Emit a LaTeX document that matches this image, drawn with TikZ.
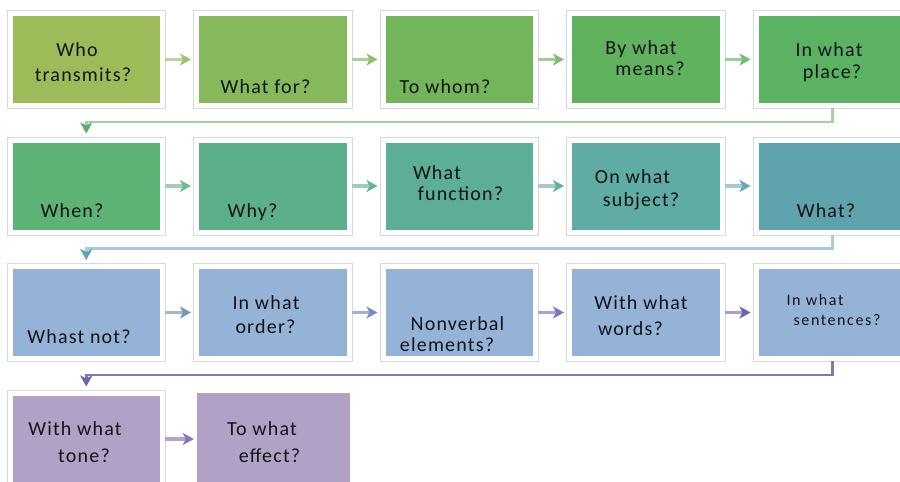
\documentclass[tikz,border=0pt]{standalone}
\usepackage{fontspec}
\setmainfont{Carlito}
\newfontfamily\boxfont[LetterSpace=6]{Carlito}
\newfontfamily\boxsmallfont[LetterSpace=10]{Carlito}
\usetikzlibrary{arrows.meta}
\definecolor{rA1}{RGB}{156,188,89}
\definecolor{rA2}{RGB}{134,185,91}
\definecolor{rA3}{RGB}{114,181,90}
\definecolor{rA4}{RGB}{97,178,94}
\definecolor{rA5}{RGB}{90,178,98}
\definecolor{rB1}{RGB}{93,178,117}
\definecolor{rB2}{RGB}{92,176,137}
\definecolor{rB3}{RGB}{92,174,151}
\definecolor{rB4}{RGB}{94,172,163}
\definecolor{rB5}{RGB}{93,162,172}
\definecolor{rC}{RGB}{149,179,215}
\definecolor{rD}{RGB}{178,161,199}
\definecolor{txtc}{RGB}{20,20,20}
% arrow shaft (s) and head (h) colours
\definecolor{s1}{RGB}{183,213,158}\definecolor{h1}{RGB}{156,196,106}
\definecolor{s2}{RGB}{169,209,151}\definecolor{h2}{RGB}{140,192,106}
\definecolor{s3}{RGB}{157,207,151}\definecolor{h3}{RGB}{125,191,110}
\definecolor{s4}{RGB}{151,205,152}\definecolor{h4}{RGB}{111,189,116}
\definecolor{s6}{RGB}{159,208,176}\definecolor{h6}{RGB}{109,187,138}
\definecolor{s7}{RGB}{158,207,190}\definecolor{h7}{RGB}{99,181,151}
\definecolor{s8}{RGB}{160,205,198}\definecolor{h8}{RGB}{95,176,166}
\definecolor{s9}{RGB}{163,203,208}\definecolor{h9}{RGB}{98,171,179}
\definecolor{s11}{RGB}{164,182,208}\definecolor{h11}{RGB}{120,150,189}
\definecolor{s12}{RGB}{166,176,210}\definecolor{h12}{RGB}{122,140,192}
\definecolor{s13}{RGB}{165,167,210}\definecolor{h13}{RGB}{122,120,191}
\definecolor{s14}{RGB}{164,159,208}\definecolor{h14}{RGB}{110,98,176}
\definecolor{s16}{RGB}{180,162,208}\definecolor{h16}{RGB}{142,114,186}
\definecolor{cs1}{RGB}{165,210,162}\definecolor{ch1}{RGB}{91,174,104}
\definecolor{cs2}{RGB}{169,205,212}\definecolor{ch2}{RGB}{95,163,176}
\definecolor{cs3}{RGB}{131,120,178}\definecolor{ch3}{RGB}{114,100,168}
\begin{document}
\begin{tikzpicture}[x=1pt,y=-1pt,
  box/.style={minimum width=152.5pt, minimum height=92pt, inner sep=0pt,
    draw=white, line width=5pt, preaction={draw=black!15, line width=7pt}},
  plainbox/.style={minimum width=153pt, minimum height=92pt, inner sep=0pt, draw=none},
  txt/.style={font=\boxfont\fontsize{20}{24}\selectfont, text=txtc, inner sep=0pt, anchor=base},
  smalltxt/.style={font=\boxsmallfont\fontsize{16}{19}\selectfont, text=txtc, inner sep=0pt, anchor=base},
  harr/.style n args={2}{draw=#1, line width=3.5pt, shorten >=3pt,
    -{Stealth[length=11pt, width=12pt, inset=3pt, color=#2]}},
  conn/.style n args={2}{draw=#1, line width=2.5pt, shorten >=4pt,
    -{Stealth[length=11pt, width=12pt, inset=3pt, color=#2]}}
]
\useasboundingbox (0,0) rectangle (900,482);
\clip (0,0) rectangle (900,482);
\fill[white] (0,0) rectangle (900,482);

% Row 1
\node[box, fill=rA1] (b1) at (86.25,59.5) {};
\node[box, fill=rA2] (b2) at (272.75,59.5) {};
\node[box, fill=rA3] (b3) at (459.25,59.5) {};
\node[box, fill=rA4] (b4) at (645.75,59.5) {};
\node[box, fill=rA5] (b5) at (832.25,59.5) {};
% Row 2
\node[box, fill=rB1] (b6) at (86.25,186) {};
\node[box, fill=rB2] (b7) at (272.75,186) {};
\node[box, fill=rB3] (b8) at (459.25,186) {};
\node[box, fill=rB4] (b9) at (645.75,186) {};
\node[box, fill=rB5] (b10) at (832.25,186) {};
% Row 3
\node[box, fill=rC] (b11) at (86.25,312.5) {};
\node[box, fill=rC] (b12) at (272.75,312.5) {};
\node[box, fill=rC] (b13) at (459.25,312.5) {};
\node[box, fill=rC] (b14) at (645.75,312.5) {};
\node[box, fill=rC] (b15) at (832.25,312.5) {};
% Row 4
\node[box, fill=rD] (b16) at (86.25,439) {};
\node[plainbox, fill=rD] (b17) at (273.5,439) {};

% Texts
\node[txt] (t1a) at (77,56) {Who};
\node[txt] (t1b) at (83,81) {transmits?};
\node[txt] (t2) at (265.5,93) {What for?};
\node[txt] (t3) at (445,93) {To whom?};
\node[txt] (t4a) at (641,54) {By what};
\node[txt] (t4b) at (650,75) {means?};
\node[txt] (t5a) at (829,56) {In what};
\node[txt] (t5b) at (832,78) {place?};
\node[txt] (t6) at (72,217) {When?};
\node[txt] (t7) at (252.5,217) {Why?};
\node[txt] (t8a) at (437,179) {What};
\node[txt] (t8b) at (460.5,200) {function?};
\node[txt] (t9a) at (632.5,183) {On what};
\node[txt] (t9b) at (641,206) {subject?};
\node[txt] (t10) at (826,217) {What?};
\node[txt] (t11) at (79,343) {Whast not?};
\node[txt] (t12a) at (266,309) {In what};
\node[txt] (t12b) at (265.5,333) {order?};
\node[txt] (t13a) at (457.5,330) {Nonverbal};
\node[txt] (t13b) at (447,351) {elements?};
\node[txt] (t14a) at (641,309) {With what};
\node[txt] (t14b) at (630.5,335) {words?};
\node[smalltxt] (t15a) at (815,305) {In what};
\node[smalltxt] (t15b) at (837,325) {sentences?};
\node[txt] (t16a) at (75,435) {With what};
\node[txt] (t16b) at (84,462) {tone?};
\node[txt] (t17a) at (262,435) {To what};
\node[txt] (t17b) at (269.5,462) {effect?};

% Horizontal arrows
\draw[harr={s1}{h1}] (b1.east) -- (b2.west);
\draw[harr={s2}{h2}] (b2.east) -- (b3.west);
\draw[harr={s3}{h3}] (b3.east) -- (b4.west);
\draw[harr={s4}{h4}] (b4.east) -- (b5.west);
\draw[harr={s6}{h6}] (b6.east) -- (b7.west);
\draw[harr={s7}{h7}] (b7.east) -- (b8.west);
\draw[harr={s8}{h8}] (b8.east) -- (b9.west);
\draw[harr={s9}{h9}] (b9.east) -- (b10.west);
\draw[harr={s11}{h11}] (b11.east) -- (b12.west);
\draw[harr={s12}{h12}] (b12.east) -- (b13.west);
\draw[harr={s13}{h13}] (b13.east) -- (b14.west);
\draw[harr={s14}{h14}] (b14.east) -- (b15.west);
\draw[harr={s16}{h16}] (b16.east) -- (b17.west);

% Row connectors
\draw[conn={cs1}{ch1}] (b5.south) -- ++(0,14) -| (b6.north);
\draw[conn={cs2}{ch2}] (b10.south) -- ++(0,14) -| (b11.north);
\draw[conn={cs3}{ch3}] (b15.south) -- ++(0,14) -| (b16.north);
\end{tikzpicture}
\end{document}
